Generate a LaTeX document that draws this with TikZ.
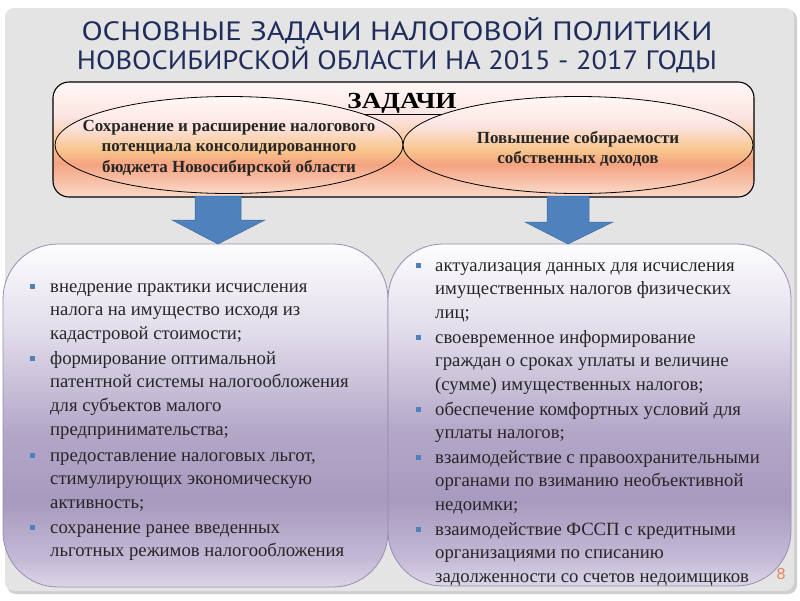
\documentclass[tikz,border=0pt]{standalone}
\usepackage{fontspec}
\setmainfont{Liberation Serif}
\newfontfamily\titlefont{PT Sans}
\newfontfamily\numfont{Liberation Sans}
\usetikzlibrary{shapes.geometric}

\definecolor{panel}{HTML}{E4E4E4}
\definecolor{panelshadow}{HTML}{CFCFCF}
\definecolor{titlecol}{HTML}{1F2C5C}
\definecolor{arrowblue}{HTML}{4F81BD}
\definecolor{arrowedge}{HTML}{3F6CA3}
\definecolor{lavedge}{HTML}{9A8CB4}
\definecolor{bulletblue}{HTML}{4F81BD}
\definecolor{textcol}{HTML}{262626}
\definecolor{numcol}{HTML}{E8835A}
% orange shading stops
\definecolor{oA}{HTML}{FAD9C8}
\definecolor{oB}{HTML}{F5A382}
\definecolor{oC}{HTML}{F8C58C}
\definecolor{oD}{HTML}{FCE4E2}
\definecolor{oE}{HTML}{FFF8F6}
% lavender shading stops
\definecolor{lA}{HTML}{DCD6E8}
\definecolor{lB}{HTML}{C4BAD6}
\definecolor{lC}{HTML}{A79ABF}
\definecolor{lD}{HTML}{B3A7C8}
\definecolor{lE}{HTML}{E2DDEB}
\definecolor{lF}{HTML}{FDFDFE}

\pgfdeclareverticalshading{orangesh}{100bp}{color(0bp)=(oA); color(25bp)=(oA); color(40bp)=(oB); color(47.5bp)=(oC); color(60bp)=(oD); color(75bp)=(oE); color(100bp)=(oE)}
\pgfdeclareverticalshading{lavsh}{100bp}{color(0bp)=(lA); color(25bp)=(lA); color(29bp)=(lB); color(37.5bp)=(lC); color(47.5bp)=(lD); color(62.5bp)=(lE); color(75bp)=(lF); color(100bp)=(lF)}

\tikzset{
  titletext/.style={font=\titlefont\fontsize{26.5}{30}\selectfont, text=titlecol, inner sep=0pt},
  ellipsetext/.style={font=\bfseries\fontsize{17}{20.3}\selectfont, text=textcol, align=center, inner sep=0pt},
  itemtext/.style={font=\fontsize{18.7}{23.6}\selectfont, text=textcol, align=left, anchor=north west, inner sep=0pt},
  bulletsq/.style={fill=bulletblue, minimum size=5pt, inner sep=0pt},
  orangebox/.style={shading=orangesh, draw=black, line width=1.1pt},
  lavbox/.style={shading=lavsh, draw=lavedge, line width=0.8pt},
  blockarrow/.style={fill=arrowblue, draw=arrowedge, line width=0.5pt},
}
\newcommand{\st}{\rule{0pt}{15pt}}

\begin{document}
\begin{tikzpicture}[x=1pt,y=-1pt]
\useasboundingbox (0,0) rectangle (800,600);
\fill[white] (0,0) rectangle (800,600);
% slide panel
\fill[panelshadow, rounded corners=9pt] (7,10) rectangle (797,594);
\fill[panel, rounded corners=9pt] (5,8) rectangle (794,591);

% title
\node[titletext] (t1) at (397,31) {\scalebox{1.17}[1]{ОСНОВНЫЕ ЗАДАЧИ НАЛОГОВОЙ ПОЛИТИКИ}};
\node[titletext] (t2) at (397,60) {\scalebox{1.075}[1]{НОВОСИБИРСКОЙ ОБЛАСТИ НА 2015 - 2017 ГОДЫ}};

% top box
\path[orangebox, rounded corners=16pt] (53,82) rectangle (754,197);
\node[font=\bfseries\fontsize{23}{26}\selectfont, text=black, inner sep=0pt, anchor=base] (zad) at (402,108) {\scalebox{1.18}[1]{\underline{ЗАДАЧИ}}};
\path[orangebox, line width=0.8pt] (229,145) ellipse [x radius=174, y radius=48.5];
\path[orangebox, line width=0.8pt] (578,145) ellipse [x radius=175, y radius=48.5];
\node[ellipsetext] (e1) at (229,148) {Сохранение и расширение налогового\\потенциала консолидированного\\бюджета Новосибирской области};
\node[ellipsetext] (e2) at (578,149) {Повышение собираемости\\собственных доходов};

% bottom boxes
\path[lavbox, rounded corners=55pt] (3,244) rectangle (388,587);
\path[lavbox, rounded corners=55pt] (388,244) rectangle (791,586);

% arrows
\path[blockarrow] (195,196) -- (241,196) -- (241,220) -- (265,220) -- (218,244) -- (172,220) -- (195,220) -- cycle;
\path[blockarrow] (547,196) -- (589,196) -- (589,222) -- (613,222) -- (568,244) -- (525,222) -- (547,222) -- cycle;

% left items
\node[itemtext] (l1) at (50,277) {\st внедрение практики исчисления\\\st налога на имущество исходя из\\\st кадастровой стоимости;};
\node[itemtext] (l2) at (50,349) {\st формирование оптимальной\\\st патентной системы налогообложения\\\st для субъектов малого\\\st предпринимательства;};
\node[itemtext] (l3) at (50,446) {\st предоставление налоговых льгот,\\\st стимулирующих экономическую\\\st активность;};
\node[itemtext] (l4) at (50,518) {\st сохранение ранее введенных\\\st льготных режимов налогообложения};
\node[bulletsq] (bl1) at (32,286) {};
\node[bulletsq] (bl2) at (32,358) {};
\node[bulletsq] (bl3) at (32,455) {};
\node[bulletsq] (bl4) at (32,527) {};

% right items
\node[itemtext] (r1) at (435,256) {\st актуализация данных для исчисления\\\st имущественных налогов физических\\\st лиц;};
\node[itemtext] (r2) at (435,328) {\st своевременное информирование\\\st граждан о сроках уплаты и величине\\\st (сумме) имущественных налогов;};
\node[itemtext] (r3) at (435,400) {\st обеспечение комфортных условий для\\\st уплаты налогов;};
\node[itemtext] (r4) at (435,448) {\st взаимодействие с правоохранительными\\\st органами по взиманию необъективной\\\st недоимки;};
\node[itemtext] (r5) at (435,520) {\st взаимодействие ФССП с кредитными\\\st организациями по списанию\\\st задолженности со счетов недоимщиков};
\node[bulletsq] (br1) at (418,265) {};
\node[bulletsq] (br2) at (418,337) {};
\node[bulletsq] (br3) at (418,409) {};
\node[bulletsq] (br4) at (418,457) {};
\node[bulletsq] (br5) at (418,529) {};

% page number
\node[font=\numfont\fontsize{16}{18}\selectfont, text=numcol, inner sep=0pt] (pn) at (781,574) {8};
\end{tikzpicture}
\end{document}
